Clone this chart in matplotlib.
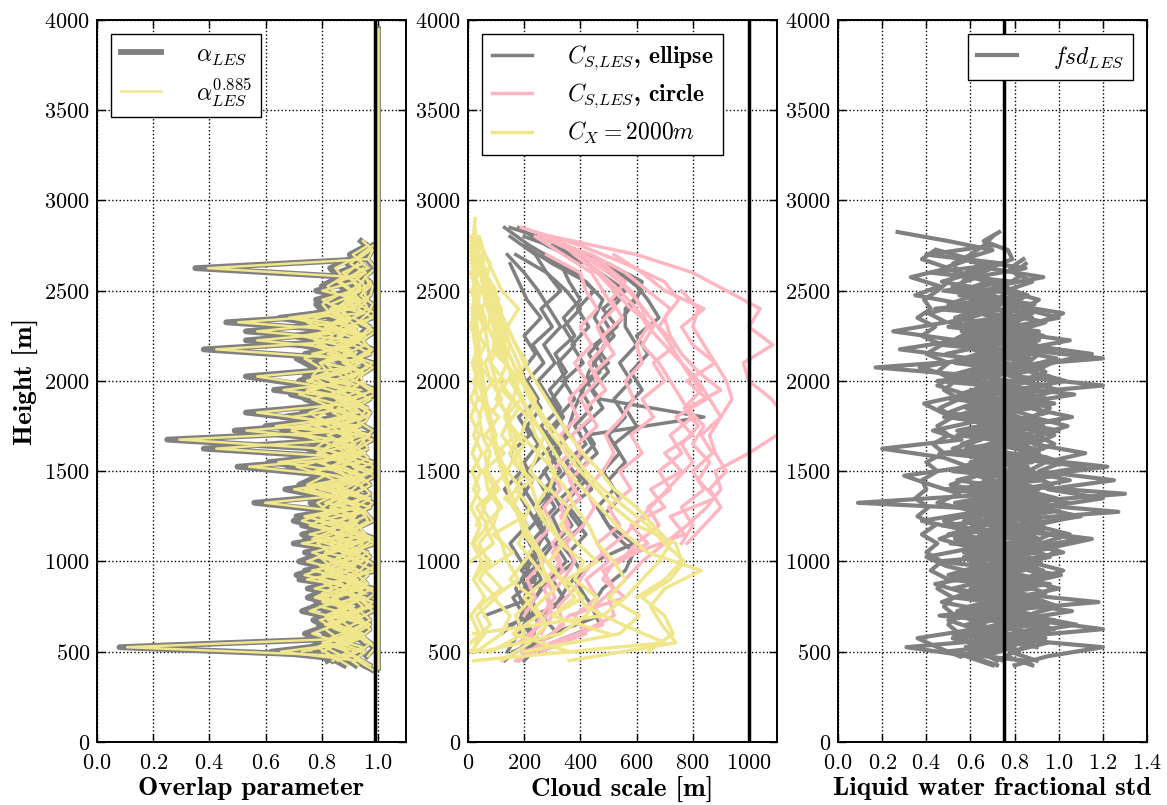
import numpy as np
import matplotlib
matplotlib.use("Agg")
import matplotlib.pyplot as plt

# ---------------------------------------------------------------------------
# data (heights in m, one profile per list)
# ---------------------------------------------------------------------------

# panel 1: overlap parameter, 50 m levels starting at the given base height
alpha_step = 50
alpha_bases = [425, 425, 425, 450, 500, 400, 475, 525, 450, 475, 500, 425, 550, 450, 500]
alpha_les = [
    [0.95, 0.90, 0.08, 0.92, 0.86, 0.94, 0.83, 0.91, 0.88, 0.79, 0.93, 0.85, 0.90, 0.82, 0.95, 0.87,
     0.76, 0.92, 0.84, 0.89, 0.81, 0.94, 0.86, 0.91, 0.78, 0.25, 0.93, 0.83, 0.90, 0.85, 0.95, 0.80,
     0.91, 0.87, 0.93, 0.84, 0.89, 0.92, 0.46, 0.94, 0.90, 0.88, 0.95, 0.91, 0.35, 0.96],
    [0.92, 0.87, 0.94, 0.81, 0.90, 0.85, 0.93, 0.78, 0.89, 0.95, 0.84, 0.91, 0.76, 0.88, 0.93, 0.80,
     0.90, 0.86, 0.56, 0.92, 0.83, 0.89, 0.94, 0.79, 0.91, 0.85, 0.49, 0.90, 0.82, 0.93, 0.87, 0.75,
     0.53, 0.91, 0.84, 0.89, 0.53, 0.92, 0.86, 0.94, 0.81, 0.90, 0.93, 0.88, 0.96, 0.92, 0.97],
    [0.97, 0.91, 0.85, 0.93, 0.88, 0.80, 0.92, 0.86, 0.95, 0.83, 0.90, 0.77, 0.93, 0.87, 0.81, 0.91,
     0.85, 0.94, 0.79, 0.88, 0.92, 0.84, 0.50, 0.90, 0.38, 0.86, 0.93, 0.81, 0.53, 0.89, 0.84, 0.92,
     0.78, 0.90, 0.86, 0.38, 0.91, 0.53, 0.88, 0.82, 0.93, 0.87, 0.92, 0.95],
    [0.90, 0.95, 0.84, 0.91, 0.80, 0.93, 0.87, 0.82, 0.94, 0.72, 0.89, 0.85, 0.93, 0.70, 0.90, 0.86,
     0.78, 0.92, 0.83, 0.67, 0.91, 0.88, 0.76, 0.93, 0.85, 0.90, 0.69, 0.92, 0.84, 0.89, 0.63, 0.91,
     0.86, 0.93, 0.74, 0.90, 0.84, 0.92, 0.68, 0.89, 0.93, 0.78, 0.91, 0.86, 0.94, 0.90, 0.96],
    [0.70, 0.86, 0.93, 0.79, 0.90, 0.84, 0.95, 0.75, 0.88, 0.92, 0.81, 0.89, 0.94, 0.73, 0.87, 0.91,
     0.82, 0.95, 0.77, 0.90, 0.85, 0.61, 0.92, 0.87, 0.80, 0.93, 0.66, 0.88, 0.91, 0.72, 0.86, 0.94,
     0.79, 0.90, 0.84, 0.70, 0.92, 0.87, 0.81, 0.93, 0.89, 0.84, 0.95],
    [0.98, 0.92, 0.62, 0.89, 0.94, 0.83, 0.91, 0.77, 0.93, 0.86, 0.90, 0.74, 0.92, 0.88, 0.81, 0.95,
     0.85, 0.71, 0.90, 0.93, 0.84, 0.89, 0.75, 0.92, 0.87, 0.82, 0.94, 0.60, 0.89, 0.91, 0.85, 0.93,
     0.72, 0.88, 0.92, 0.80, 0.90, 0.94, 0.83, 0.65, 0.91, 0.87, 0.93, 0.90, 0.95, 0.89, 0.93, 0.98],
    [0.96, 0.99, 0.93, 0.97, 0.91, 0.98, 0.94, 0.99, 0.92, 0.96, 0.89, 0.97, 0.93, 0.99, 0.90, 0.96,
     0.94, 0.98, 0.91, 0.97, 0.93, 0.99, 0.88, 0.96, 0.94, 0.98, 0.92, 0.97, 0.90, 0.99, 0.95, 0.93,
     0.98, 0.91, 0.97, 0.94, 0.99, 0.92, 0.96, 0.98, 0.93, 0.97, 0.95, 0.99, 0.96, 0.98, 0.94],
    [0.99, 0.95, 0.90, 0.97, 0.93, 0.98, 0.86, 0.96, 0.92, 0.99, 0.94, 0.87, 0.97, 0.91, 0.98, 0.95,
     0.89, 0.97, 0.93, 0.99, 0.90, 0.96, 0.92, 0.98, 0.85, 0.95, 0.97, 0.91, 0.99, 0.94, 0.88, 0.96,
     0.93, 0.98, 0.90, 0.97, 0.95, 0.99, 0.92, 0.97, 0.98, 0.95],
    [0.82, 0.88, 0.78, 0.91, 0.84, 0.80, 0.89, 0.76, 0.86, 0.92, 0.79, 0.85, 0.74, 0.88, 0.83, 0.77,
     0.90, 0.81, 0.86, 0.73, 0.89, 0.84, 0.78, 0.91, 0.82, 0.87, 0.75, 0.90, 0.80, 0.85, 0.72, 0.88,
     0.83, 0.79, 0.91, 0.76, 0.86, 0.81, 0.89, 0.84, 0.78, 0.90, 0.85, 0.88, 0.92],
    [0.86, 0.79, 0.93, 0.83, 0.77, 0.90, 0.85, 0.81, 0.94, 0.78, 0.88, 0.84, 0.91, 0.76, 0.87, 0.92,
     0.80, 0.85, 0.89, 0.74, 0.93, 0.82, 0.87, 0.79, 0.90, 0.84, 0.77, 0.92, 0.86, 0.81, 0.89, 0.75,
     0.91, 0.85, 0.80, 0.93, 0.83, 0.88, 0.78, 0.90, 0.86, 0.92, 0.89, 0.94],
    [0.93, 0.97, 0.89, 0.95, 0.86, 0.98, 0.91, 0.94, 0.87, 0.99, 0.90, 0.96, 0.84, 0.95, 0.92, 0.88,
     0.97, 0.85, 0.94, 0.91, 0.98, 0.86, 0.95, 0.89, 0.97, 0.83, 0.93, 0.96, 0.88, 0.99, 0.91, 0.94,
     0.86, 0.97, 0.90, 0.95, 0.87, 0.98, 0.92, 0.96, 0.94, 0.97],
    [0.88, 0.82, 0.76, 0.84, 0.79, 0.87, 0.73, 0.82, 0.78, 0.86, 0.71, 0.81, 0.77, 0.85, 0.74, 0.83,
     0.70, 0.80, 0.76, 0.84, 0.72, 0.79, 0.68, 0.82, 0.75, 0.80, 0.66, 0.78, 0.73, 0.83, 0.69, 0.80,
     0.74, 0.77, 0.71, 0.82, 0.75, 0.79, 0.72, 0.81, 0.78, 0.84, 0.80, 0.86, 0.83, 0.90],
    [0.95, 0.91, 0.97, 0.88, 0.94, 0.90, 0.98, 0.85, 0.93, 0.96, 0.89, 0.99, 0.92, 0.87, 0.95, 0.91,
     0.97, 0.86, 0.94, 0.90, 0.98, 0.88, 0.93, 0.96, 0.84, 0.95, 0.91, 0.97, 0.89, 0.94, 0.92, 0.98,
     0.87, 0.95, 0.93, 0.97, 0.90, 0.96, 0.94],
    [0.84, 0.92, 0.80, 0.88, 0.95, 0.82, 0.90, 0.78, 0.93, 0.86, 0.81, 0.94, 0.79, 0.89, 0.84, 0.91,
     0.77, 0.92, 0.85, 0.80, 0.94, 0.83, 0.88, 0.76, 0.91, 0.86, 0.82, 0.93, 0.79, 0.90, 0.85, 0.81,
     0.94, 0.78, 0.89, 0.84, 0.92, 0.80, 0.88, 0.86, 0.91, 0.89, 0.94],
    [0.78, 0.85, 0.74, 0.83, 0.79, 0.88, 0.75, 0.82, 0.77, 0.86, 0.72, 0.81, 0.76, 0.87, 0.73, 0.80,
     0.78, 0.84, 0.71, 0.83, 0.75, 0.86, 0.77, 0.81, 0.70, 0.84, 0.76, 0.82, 0.74, 0.87, 0.72, 0.80,
     0.77, 0.85, 0.73, 0.82, 0.79, 0.86, 0.83, 0.88],
]
# column where alpha stays 1 over the whole domain
alpha_full_z = [410, 3950]
alpha_full = [1.0, 1.0]
alpha_exponent = 0.885
alpha_ref = 0.99

# panel 2: cloud scale [m], 100 m levels
scale_step = 100
ellipse_bases = [450, 500, 450, 500, 600, 650, 700, 550, 500, 450, 800, 550]
ellipse = [
    [130, 210, 250, 230, 200, 260, 220, 280, 240, 290, 250, 300, 330, 360, 380, 410, 430, 470, 500,
     550, 600, 620, 500, 350, 150],
    [200, 300, 470, 420, 380, 450, 590, 500, 460, 520, 480, 540, 500, 560, 520, 580, 540, 600, 560,
     560, 620, 540, 430, 250],
    [180, 240, 200, 220, 260, 190, 240, 200, 260, 220, 180, 240, 300, 260, 330, 290, 350, 310, 380,
     340, 400, 360, 330, 220, 130],
    [160, 320, 260, 340, 300, 380, 330, 410, 360, 440, 390, 460, 420, 840, 470, 420, 500, 450, 530,
     480, 560, 470, 380, 200],
    [120, 200, 160, 240, 190, 150, 210, 170, 130, 190, 150, 220, 180, 250, 210, 270, 230, 300, 260,
     330, 280, 240, 150],
    [150, 310, 350, 400, 360, 420, 370, 330, 400, 350, 420, 380, 440, 400, 470, 430, 490, 450, 480,
     420, 300, 200],
    [60, 230, 190, 260, 220, 280, 240, 310, 270, 330, 290, 340, 300, 350, 320, 380, 340, 400, 350,
     280, 170],
    [300, 470, 440, 480, 560, 590, 520, 480, 540, 500, 560, 520, 600, 560, 620, 580, 640, 600, 680,
     640, 590, 460, 300],
    [140, 180, 220, 200, 260, 230, 290, 250, 310, 270, 330, 290, 360, 320, 380, 340, 410, 370, 430,
     390, 450, 380, 260],
    [200, 260, 210, 240, 200, 230, 280, 330, 300, 360, 420, 390, 450, 410, 480, 440, 500, 460, 520,
     480, 540, 500, 420, 280, 180],
    [240, 290, 350, 310, 370, 330, 290, 350, 310, 270, 330, 290, 250, 310, 270, 330, 290, 250, 200,
     140],
    [220, 180, 200, 170, 210, 240, 270, 230, 190, 230, 200, 250, 210, 260, 220, 190, 240, 200, 260,
     210, 180, 150],
]
circle_bases = [500, 450, 500, 550, 600, 700, 1100, 1000, 450, 1100, 600, 500]
circle = [
    [200, 400, 520, 500, 560, 620, 700, 780, 850, 900, 880, 1000, 1100, 1130, 1080, 1000, 980, 1085,
     1000, 1040, 920, 800, 600, 300],
    [170, 300, 480, 450, 520, 480, 600, 770, 720, 880, 820, 860, 800, 840, 780, 900, 820, 760, 720,
     700, 750, 700, 560, 400, 190],
    [260, 420, 380, 460, 420, 500, 460, 540, 500, 580, 540, 620, 580, 660, 620, 700, 660, 740, 680,
     720, 640, 560, 440, 250],
    [180, 260, 300, 270, 340, 300, 370, 330, 400, 360, 430, 390, 460, 420, 490, 450, 520, 480, 550,
     510, 560, 480, 330],
    [300, 360, 560, 480, 520, 640, 580, 700, 650, 760, 700, 800, 740, 850, 780, 880, 800, 760, 840,
     700, 620, 520],
    [200, 240, 210, 270, 240, 300, 270, 330, 300, 360, 330, 390, 360, 420, 380, 440, 400, 460, 420,
     400, 280],
    [780, 840, 900, 860, 920, 880, 860, 900, 940, 920, 880, 840, 800, 820, 760],
    [540, 600, 680, 640, 720, 680, 760, 720, 800, 760, 720, 680, 620, 660, 580, 520, 460, 380, 300],
    [180, 260, 340, 320, 380, 420, 480, 560, 620, 680, 740, 800, 760, 820, 770, 830, 780, 740, 700,
     650, 600, 540, 460, 350],
    [760, 800, 760, 840, 800, 870, 830, 900, 860, 820, 760, 700, 640, 600, 540, 470, 380],
    [260, 300, 280, 340, 380, 350, 410, 450, 420, 480, 520, 490, 550, 590, 560, 620, 600, 640, 620,
     580, 500, 400, 270],
    [190, 230, 260, 310, 280, 330, 300, 360, 330, 380, 350, 400, 370, 440, 400, 460, 430, 490, 460,
     520, 480, 440, 340, 240],
]
cx_bases = [500, 450, 500, 500, 450, 500, 600, 1000, 500, 700, 450, 500, 550, 600, 500, 800,
            900, 500, 1200]
cx_2000 = [
    [640, 730, 700, 620, 720, 770, 700, 640, 560, 480, 420, 370, 320, 270, 230, 190, 160, 130, 100,
     80, 60, 45, 35, 30],
    [360, 740, 690, 650, 700, 830, 640, 560, 500, 440, 380, 330, 290, 250, 210, 180, 150, 120, 100,
     80, 60, 50, 40, 30, 25],
    [200, 540, 610, 500, 560, 520, 460, 430, 380, 350, 300, 280, 240, 220, 190, 170, 140, 120, 100,
     90, 70, 50, 30],
    [50, 330, 420, 460, 380, 410, 330, 300, 250, 230, 200, 180, 150, 140, 110, 100, 80, 70, 60, 40,
     30, 20, 15, 20, 25],
    [120, 220, 280, 240, 310, 270, 250, 200, 180, 150, 140, 120, 100, 90, 70, 60, 50, 40, 35, 30, 25,
     20, 15, 10],
    [30, 120, 150, 90, 180, 140, 120, 90, 110, 70, 60, 80, 50, 40, 60, 30, 25, 40, 20, 15, 30, 10],
    [20, 480, 560, 620, 680, 720, 660, 600, 520, 470, 410, 360, 320, 280, 240, 200, 170, 140, 110, 90,
     60, 40],
    [10, 90, 60, 120, 80, 140, 100, 170, 130, 190, 150, 210, 170, 140, 180, 120, 90, 60, 40],
    [10, 60, 30, 100, 40, 80, 20, 70, 30, 100, 50, 130, 60, 110, 40, 90, 30, 60, 20, 50, 10],
    [300, 410, 350, 460, 390, 330, 360, 290, 310, 250, 270, 220, 240, 200, 180, 150, 130, 100, 70],
    [20, 700, 550, 420, 380, 300, 260, 220, 180, 160, 130, 110, 90, 80, 60, 50, 40, 30, 20],
    [360, 160, 250, 200, 280, 230, 180, 210, 160, 190, 140, 170, 120, 150, 100, 130, 80, 110, 70, 90,
     50, 70, 30],
    [10, 80, 40, 120, 60, 160, 90, 200, 130, 230, 160, 200, 140, 180, 120, 160, 100, 140, 80, 110,
     60, 80, 40],
    [500, 300, 380, 330, 290, 340, 280, 240, 280, 220, 250, 190, 210, 160, 180, 130, 150, 100, 120,
     80, 60, 40, 20],
    [20, 40, 10, 60, 20, 50, 15, 45, 10, 40, 15, 50, 20, 45, 10, 35, 15, 40, 10, 30, 15, 35, 20, 10],
    [600, 700, 760, 740, 600, 520, 460, 400, 350, 300, 260, 220, 190, 160, 130, 110, 90, 70, 50],
    [20, 70, 40, 90, 50, 110, 70, 60, 100, 70, 120, 80, 60, 100, 70, 50, 80, 40, 60, 30],
    [80, 200, 170, 230, 150, 200, 240, 190, 220, 170, 200, 150, 180, 130, 160, 110, 140, 90, 120, 70,
     100, 60, 50],
    [30, 60, 20, 45, 15, 40, 10, 35, 20, 50, 25, 55, 30, 45, 20, 35, 15],
]
scale_ref = 1000

# panel 3: liquid water fractional std, 50 m levels
fsd_step = 50
fsd_bases = [425, 425, 475, 450, 500, 450, 525, 550, 600, 425, 450, 500, 425, 475, 600, 525,
             450, 500, 475, 550]
fsd_les = [
    [0.72, 0.60, 0.31, 0.78, 0.66, 0.85, 0.58, 0.80, 0.67, 0.90, 0.55, 0.76, 0.63, 0.88, 0.59, 0.81,
     0.68, 0.93, 0.09, 0.74, 0.62, 0.86, 0.57, 0.79, 0.65, 0.91, 0.54, 0.77, 0.63, 0.87, 0.58, 0.80,
     0.66, 0.17, 0.73, 0.61, 0.84, 0.56, 0.78, 0.64, 0.89, 0.55, 0.75, 0.62, 0.85, 0.57, 0.70, 0.50,
     0.27],
    [0.80, 0.95, 1.20, 0.74, 1.20, 0.88, 0.70, 1.18, 0.77, 0.92, 0.68, 0.85, 0.73, 0.96, 1.15, 0.82,
     0.71, 1.27, 0.79, 1.30, 0.75, 0.90, 1.22, 0.84, 0.70, 0.94, 0.78, 0.87, 0.72, 0.98, 0.76, 1.20,
     0.81, 0.69, 1.20, 0.83, 1.05, 0.74, 0.91, 1.02, 0.77, 0.86, 0.71, 0.93, 0.68, 0.79, 0.77, 0.66,
     0.73],
    [0.55, 0.45, 0.36, 0.62, 0.50, 0.68, 0.47, 0.58, 0.44, 0.66, 0.49, 0.40, 0.61, 0.46, 0.57, 0.38,
     0.63, 0.45, 0.55, 0.42, 0.30, 0.59, 0.48, 0.20, 0.56, 0.43, 0.62, 0.47, 0.39, 0.58, 0.45, 0.52,
     0.37, 0.60, 0.28, 0.54, 0.25, 0.49, 0.41, 0.57, 0.35, 0.46, 0.33, 0.50, 0.38, 0.44],
    [0.90, 0.78, 0.95, 0.82, 1.08, 0.86, 0.97, 0.80, 1.00, 0.84, 0.93, 0.79, 1.02, 0.87, 0.96, 0.81,
     1.10, 0.88, 0.99, 0.83, 1.05, 0.86, 0.94, 1.12, 0.89, 0.98, 0.82, 1.06, 0.87, 0.95, 0.80, 1.03,
     0.88, 0.97, 1.15, 0.85, 0.93, 0.78, 1.00, 0.84, 0.91, 0.76, 0.88, 0.80, 0.85],
    [0.68, 0.75, 0.62, 0.78, 0.66, 0.73, 0.60, 0.77, 0.69, 0.74, 0.63, 0.80, 0.67, 0.72, 0.61, 0.79,
     0.70, 0.75, 0.64, 0.81, 0.68, 0.73, 0.62, 0.78, 0.71, 0.66, 0.76, 0.63, 0.80, 0.69, 0.74, 0.60,
     0.77, 0.67, 0.72, 0.64, 0.79, 0.70, 0.65, 0.74, 0.62, 0.69, 0.58, 0.66],
    [0.85, 0.48, 0.88, 0.52, 0.91, 0.46, 0.86, 0.53, 0.89, 0.50, 0.84, 0.45, 0.92, 0.51, 0.87, 0.47,
     0.90, 0.55, 0.85, 0.49, 0.93, 0.52, 0.88, 0.46, 0.86, 0.54, 0.91, 0.48, 0.87, 0.51, 0.90, 0.45,
     0.85, 0.53, 0.89, 0.47, 0.84, 0.50, 0.88, 0.44, 0.82, 0.48, 0.79, 0.42, 0.75, 0.40, 0.70],
    [0.58, 0.94, 0.60, 0.98, 0.57, 0.92, 0.63, 0.96, 0.56, 0.90, 0.61, 0.99, 0.59, 0.93, 0.64, 0.97,
     0.57, 0.91, 0.62, 1.00, 0.58, 0.95, 0.60, 0.92, 0.55, 0.97, 0.63, 0.90, 0.57, 0.96, 0.61, 0.93,
     0.56, 0.98, 0.60, 0.91, 0.58, 0.88, 0.54, 0.85, 0.52],
    [0.60, 0.55, 0.50, 0.53, 0.48, 0.52, 0.45, 0.50, 0.42, 0.47, 0.40, 0.45, 0.38, 0.44, 0.36, 0.41,
     0.35, 0.40, 0.38, 0.45, 0.40, 0.48, 0.43, 0.50, 0.45, 0.52, 0.46, 0.55, 0.48, 0.53, 0.45, 0.50,
     0.40, 0.47, 0.38, 0.44, 0.36, 0.42, 0.39, 0.45, 0.50, 0.55, 0.52, 0.60, 0.66, 0.70],
    [0.80, 0.95, 0.85, 1.00, 0.88, 0.97, 0.90, 1.02, 0.86, 0.99, 0.92, 1.05, 0.89, 1.08, 0.93, 1.20,
     0.95, 1.25, 0.91, 1.02, 0.87, 0.98, 0.90, 1.04, 0.88, 0.96, 0.85, 1.00, 0.83, 0.94, 0.86, 0.91,
     0.80, 0.89, 0.78, 0.84],
    [0.70, 0.58, 0.76, 0.52, 0.64, 0.80, 0.56, 0.72, 0.60, 0.83, 0.54, 0.69, 0.59, 0.78, 0.62, 0.85,
     0.57, 0.71, 0.53, 0.77, 0.61, 0.84, 0.56, 0.70, 0.58, 0.81, 0.55, 0.73, 0.60, 0.79, 0.57, 0.75,
     0.53, 0.82, 0.59, 0.68, 0.54, 0.74, 0.50, 0.66, 0.56, 0.71, 0.52, 0.63, 0.48, 0.60, 0.45],
    [0.75, 0.62, 0.82, 0.68, 0.58, 0.79, 0.65, 0.86, 0.60, 0.74, 0.67, 0.90, 0.63, 0.77, 0.55, 0.83,
     0.69, 0.61, 0.80, 0.66, 0.88, 0.59, 0.76, 0.64, 0.84, 0.57, 0.72, 0.68, 0.87, 0.62, 0.78, 0.54,
     0.81, 0.65, 0.73, 0.60, 0.85, 0.58, 0.70, 0.63, 0.77, 0.56, 0.68, 0.61, 0.72],
    [0.62, 0.70, 0.55, 0.74, 0.66, 0.59, 0.77, 0.52, 0.69, 0.63, 0.80, 0.57, 0.72, 0.50, 0.67, 0.75,
     0.58, 0.64, 0.82, 0.54, 0.70, 0.61, 0.78, 0.56, 0.68, 0.73, 0.51, 0.66, 0.60, 0.76, 0.55, 0.71,
     0.63, 0.49, 0.69, 0.58, 0.74, 0.53, 0.65, 0.60, 0.70, 0.47, 0.62],
    [0.88, 0.76, 0.84, 0.92, 0.78, 0.87, 0.72, 0.90, 0.81, 0.75, 0.94, 0.79, 0.86, 0.70, 0.91, 0.83,
     0.77, 0.95, 0.80, 0.88, 0.73, 0.92, 0.84, 0.78, 0.89, 0.71, 0.93, 0.82, 0.76, 0.90, 0.85, 0.74,
     0.96, 0.79, 0.87, 0.72, 0.91, 0.83, 0.77, 0.88, 0.80, 0.85, 0.75, 0.82, 0.78, 0.84],
    [0.66, 0.80, 0.71, 0.64, 0.83, 0.69, 0.76, 0.61, 0.85, 0.73, 0.67, 0.79, 0.62, 0.88, 0.70, 0.75,
     0.60, 0.82, 0.68, 0.77, 0.63, 0.86, 0.72, 0.65, 0.80, 0.59, 0.84, 0.70, 0.74, 0.62, 0.81, 0.67,
     0.78, 0.58, 0.83, 0.71, 0.64, 0.79, 0.66, 0.74, 0.61, 0.76, 0.60, 0.70, 0.57],
    [0.70, 0.85, 0.62, 0.92, 0.74, 0.66, 0.88, 0.58, 0.80, 0.71, 0.95, 0.64, 0.83, 0.55, 0.78, 0.90,
     0.60, 0.86, 0.68, 0.76, 0.52, 0.84, 0.72, 0.93, 0.63, 0.79, 0.57, 0.87, 0.69, 0.75, 0.61, 0.82,
     0.54, 0.77, 0.66, 0.73, 0.59],
    [0.90, 0.72, 0.98, 0.80, 1.06, 0.77, 0.94, 0.83, 1.01, 0.75, 0.96, 0.86, 1.10, 0.79, 0.92, 0.74,
     1.04, 0.82, 0.97, 0.88, 1.12, 0.76, 0.93, 0.85, 1.00, 0.78, 0.95, 0.81, 1.07, 0.73, 0.91, 0.84,
     0.99, 0.77, 0.89, 0.80, 0.94, 0.74, 0.87],
    [0.72, 0.64, 0.80, 0.70, 0.62, 0.78, 0.68, 0.84, 0.66, 0.74, 0.60, 0.80, 0.70, 0.64, 0.82, 0.68,
     0.76, 0.62, 0.86, 0.70, 0.66, 0.78, 0.60, 0.74, 0.68, 0.82, 0.64, 0.72, 0.58, 0.80, 0.66, 0.76,
     0.62, 0.84, 0.70, 0.64, 0.78, 0.60, 0.72, 0.66, 0.74, 0.62, 0.70, 0.58, 0.66],
    [0.82, 0.70, 0.86, 0.76, 0.90, 0.72, 0.84, 0.78, 0.92, 0.74, 0.88, 0.70, 0.85, 0.80, 0.93, 0.75,
     0.87, 0.71, 0.90, 0.77, 0.84, 0.73, 0.91, 0.79, 0.86, 0.72, 0.89, 0.76, 0.83, 0.70, 0.88, 0.78,
     0.85, 0.74, 0.90, 0.71, 0.82, 0.76, 0.80, 0.72, 0.78, 0.68],
    [0.56, 0.66, 0.52, 0.70, 0.60, 0.54, 0.68, 0.58, 0.72, 0.50, 0.64, 0.57, 0.70, 0.53, 0.62, 0.48,
     0.66, 0.55, 0.71, 0.51, 0.63, 0.58, 0.69, 0.52, 0.65, 0.56, 0.73, 0.50, 0.61, 0.55, 0.67, 0.49,
     0.64, 0.57, 0.70, 0.52, 0.60, 0.54, 0.66, 0.50, 0.62, 0.55, 0.58],
    [0.78, 0.88, 0.74, 0.84, 0.70, 0.90, 0.76, 0.82, 0.72, 0.92, 0.80, 0.86, 0.73, 0.89, 0.77, 0.83,
     0.71, 0.91, 0.79, 0.85, 0.75, 0.88, 0.72, 0.86, 0.78, 0.82, 0.70, 0.90, 0.76, 0.84, 0.73, 0.87,
     0.79, 0.81, 0.74, 0.85, 0.71, 0.80, 0.75],
]
fsd_ref = 0.75

# ---------------------------------------------------------------------------
GRAY = "gray"
KHAKI = "khaki"
PINK = "lightpink"

plt.rcParams["font.family"] = "serif"
plt.rcParams["font.serif"] = ["cmr10"]
plt.rcParams["mathtext.fontset"] = "cm"
plt.rcParams["axes.unicode_minus"] = False
plt.rcParams["axes.formatter.use_mathtext"] = True

LEGEND_KW = dict(prop={"family": "cmb10", "size": 17}, fancybox=False, edgecolor="k",
                 framealpha=1, handlelength=1.7, handletextpad=1.5, borderaxespad=0.6,
                 labelspacing=0.4)


def plot_profiles(ax, profiles, bases, step, label=None, **kw):
    """Draw each vertical profile; only the first one gets the legend label."""
    for i, (vals, base) in enumerate(zip(profiles, bases)):
        z = base + step * np.arange(len(vals))
        ax.plot(vals, z, label=label if i == 0 else None, **kw)


def style_axis(ax, xlim, xticks, xlabel):
    ax.set_xlim(*xlim)
    ax.set_ylim(0, 4000)
    ax.set_xticks(xticks)
    ax.set_yticks(np.arange(0, 4001, 500))
    ax.grid(True, linestyle=":", color="k", linewidth=1)
    ax.tick_params(direction="in", top=True, right=True, length=6, width=1, labelsize=16)
    ax.tick_params(axis="x", pad=8)
    ax.tick_params(axis="y", pad=5)
    for sp in ax.spines.values():
        sp.set_linewidth(1.4)
    ax.set_xlabel(xlabel, fontfamily="cmb10", fontsize=19.5, labelpad=3)


fig = plt.figure(figsize=(11.67, 8.05), dpi=100)
ax1 = fig.add_axes([0.0831, 0.0783, 0.2648, 0.8969])
ax2 = fig.add_axes([0.4010, 0.0783, 0.2648, 0.8969])
ax3 = fig.add_axes([0.7181, 0.0783, 0.2648, 0.8969])

# --- overlap parameter
plot_profiles(ax1, alpha_les, alpha_bases, alpha_step, label=r"$\alpha_{LES}$", color=GRAY, lw=4.2)
ax1.plot(alpha_full, alpha_full_z, color=GRAY, lw=4.2)
alpha_pow = [list(np.array(p) ** alpha_exponent) for p in alpha_les]
plot_profiles(ax1, alpha_pow, alpha_bases, alpha_step, label=r"$\alpha_{LES}^{0.885}$",
              color=KHAKI, lw=1.8)
ax1.plot(alpha_full, alpha_full_z, color=KHAKI, lw=1.8)
ax1.axvline(alpha_ref, color="k", lw=2.5, zorder=5)
style_axis(ax1, (0, 1.1), np.arange(0, 1.01, 0.2), "Overlap parameter")
ax1.set_ylabel("Height [m]", fontfamily="cmb10", fontsize=19.5)
ax1.legend(loc="upper left", **LEGEND_KW)

# --- cloud scale
plot_profiles(ax2, ellipse, ellipse_bases, scale_step, label=r"$C_{S{,}LES}$, ellipse",
              color=GRAY, lw=2.5)
plot_profiles(ax2, circle, circle_bases, scale_step, label=r"$C_{S{,}LES}$, circle",
              color=PINK, lw=2.5)
plot_profiles(ax2, cx_2000, cx_bases, scale_step, label=r"$C_X = 2000m$", color=KHAKI, lw=2.5)
ax2.axvline(scale_ref, color="k", lw=2.5, zorder=5)
style_axis(ax2, (0, 1100), np.arange(0, 1001, 200), "Cloud scale [m]")
ax2.legend(loc="upper left", **LEGEND_KW)

# --- fractional std
plot_profiles(ax3, fsd_les, fsd_bases, fsd_step, label=r"$fsd_{LES}$", color=GRAY, lw=3.0)
ax3.axvline(fsd_ref, color="k", lw=2.5, zorder=5)
style_axis(ax3, (0, 1.4), np.arange(0, 1.41, 0.2), "Liquid water fractional std")
ax3.legend(loc="upper right", **LEGEND_KW)

fig.savefig("out.png", dpi=100, facecolor="white")
